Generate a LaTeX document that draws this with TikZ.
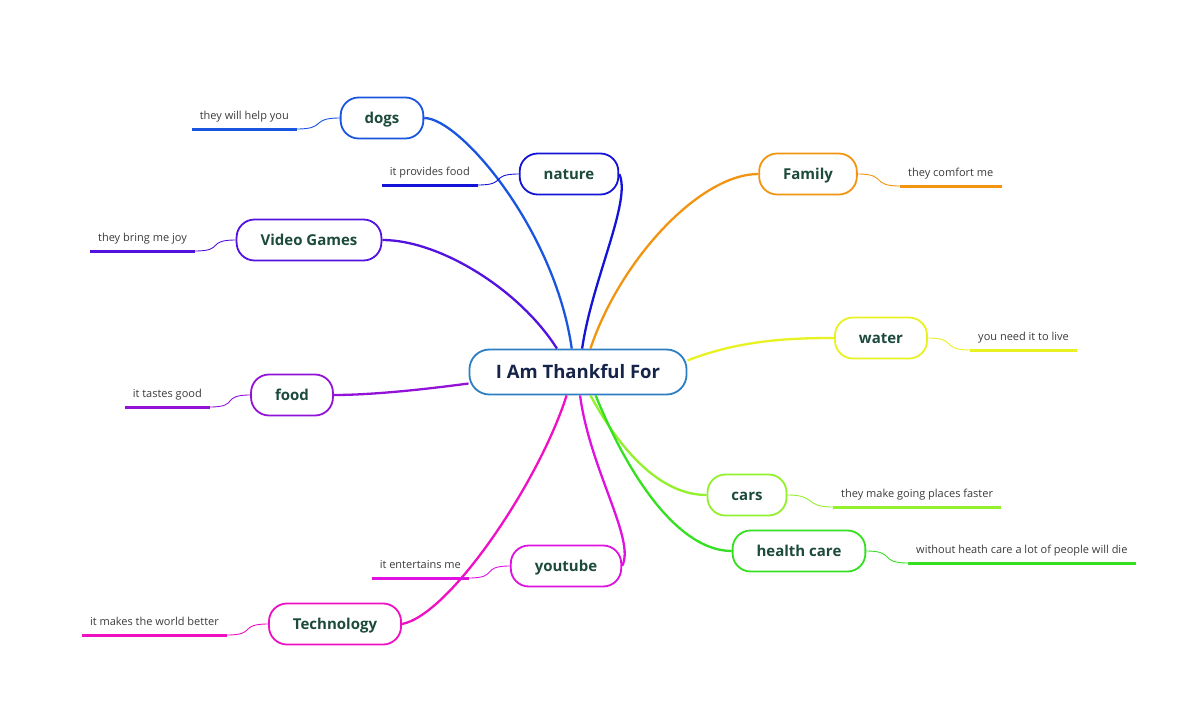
\documentclass[tikz,border=0pt]{standalone}
\usepackage{fontspec}
\setmainfont{Open Sans}

\definecolor{croot}{HTML}{2B7FC2}
\definecolor{ctextroot}{HTML}{16244A}
\definecolor{ctext}{HTML}{1C4A3C}
\definecolor{cnote}{HTML}{3A3A3A}
\definecolor{cdogs}{HTML}{1A55E0}
\definecolor{cnature}{HTML}{1414D8}
\definecolor{cvideo}{HTML}{5412E0}
\definecolor{cfood}{HTML}{9212D8}
\definecolor{cfamily}{HTML}{F29410}
\definecolor{cwater}{HTML}{E8F220}
\definecolor{ccars}{HTML}{92F02C}
\definecolor{chealth}{HTML}{34E020}
\definecolor{cyoutube}{HTML}{E010E0}
\definecolor{ctech}{HTML}{F010C4}

\begin{document}
\begin{tikzpicture}[x=1pt, y=-1pt,
  root/.style={draw=croot, line width=1.8pt, rounded corners=20pt, minimum height=45pt, inner xsep=26.5pt,
    text height=12.5pt, text depth=0pt,
    font=\bfseries\fontsize{18.5}{22}\selectfont, text=ctextroot, fill=white},
  topic/.style={draw=#1, line width=1.8pt, rounded corners=18pt, minimum height=41pt, inner xsep=24pt,
    text height=11pt, text depth=0pt,
    font=\bfseries\fontsize{15}{18}\selectfont, text=ctext, fill=white},
  note/.style={inner xsep=8pt, inner ysep=6pt, text height=8pt, text depth=3pt,
    font=\fontsize{11}{13}\selectfont, text=cnote},
  link/.style={draw=#1, line width=2.3pt},
  twig/.style={draw=#1, line width=0.9pt}]
\useasboundingbox (0,0) rectangle (1200,709);

% centre and topics
\node[root] (root) at (578,372) {I Am Thankful For};

\node[topic=cdogs] (dogs) at (382,118) {dogs};
\node[topic=cnature] (nature) at (569,174) {nature};
\node[topic=cvideo] (video) at (309,240) {Video Games};
\node[topic=cfood] (food) at (292,395) {food};
\node[topic=cfamily] (family) at (808,174) {Family};
\node[topic=cwater] (water) at (881,338) {water};
\node[topic=ccars] (cars) at (747,495) {cars};
\node[topic=chealth] (health) at (799,551) {health care};
\node[topic=cyoutube] (youtube) at (566,566) {youtube};
\node[topic=ctech] (tech) at (335,624) {Technology};

% notes
\node[note, anchor=south east] (dogsn) at (297,129) {they will help you};
\node[note, anchor=south east] (naturen) at (478,185) {it provides food};
\node[note, anchor=south east] (videon) at (195,251) {they bring me joy};
\node[note, anchor=south east] (foodn) at (210,407) {it tastes good};
\node[note, anchor=south west] (familyn) at (900,186) {they comfort me};
\node[note, anchor=south west] (watern) at (970,350) {you need it to live};
\node[note, anchor=south west] (carsn) at (833,507) {they make going places faster};
\node[note, anchor=south west] (healthn) at (908,563) {without heath care a lot of people will die};
\node[note, anchor=south east] (youtuben) at (469,578) {it entertains me};
\node[note, anchor=south east] (techn) at (227,635) {it makes the world better};

% branches
\draw[link=cvideo] (root.132) .. controls (520,290) and (440,240) .. (video.east);
\draw[link=cdogs] (root.105) .. controls (555,230) and (460,118) .. (dogs.east);
\draw[link=cnature] (root.80) .. controls (592,280) and (632,200) .. (nature.east);
\draw[link=cfamily] (root.62) .. controls (620,260) and (700,174) .. (family.west);
\draw[link=cwater] (root.6) .. controls (740,340) and (790,338) .. (water.west);
\draw[link=cfood] (root.186) .. controls (420,390) and (370,395) .. (food.east);
\draw[link=ctech] (root.-116) .. controls (540,480) and (450,615) .. (tech.east);
\draw[link=cyoutube] (root.-85) .. controls (590,470) and (636,540) .. (youtube.east);
\draw[link=ccars] (root.-62) .. controls (620,450) and (660,495) .. (cars.west);
\draw[link=chealth] (root.-53) .. controls (630,480) and (680,551) .. (health.west);

% twigs and underlines
\foreach \t/\n/\c in {dogs/dogsn/cdogs, nature/naturen/cnature, video/videon/cvideo,
    food/foodn/cfood, youtube/youtuben/cyoutube, tech/techn/ctech}
{
   \draw[twig=\c] (\t.west) .. controls +(-30,0) and +(30,0) .. (\n.south east);
}
\foreach \t/\n/\c in {family/familyn/cfamily, water/watern/cwater, cars/carsn/ccars,
    health/healthn/chealth}
{
   \draw[twig=\c] (\t.east) .. controls +(30,0) and +(-30,0) .. (\n.south west);
}
\foreach \n/\c in {dogsn/cdogs, naturen/cnature, videon/cvideo, foodn/cfood, familyn/cfamily,
    watern/cwater, carsn/ccars, healthn/chealth, youtuben/cyoutube, techn/ctech}
{
   \draw[line width=3pt, \c] (\n.south west) -- (\n.south east);
}
\end{tikzpicture}
\end{document}
